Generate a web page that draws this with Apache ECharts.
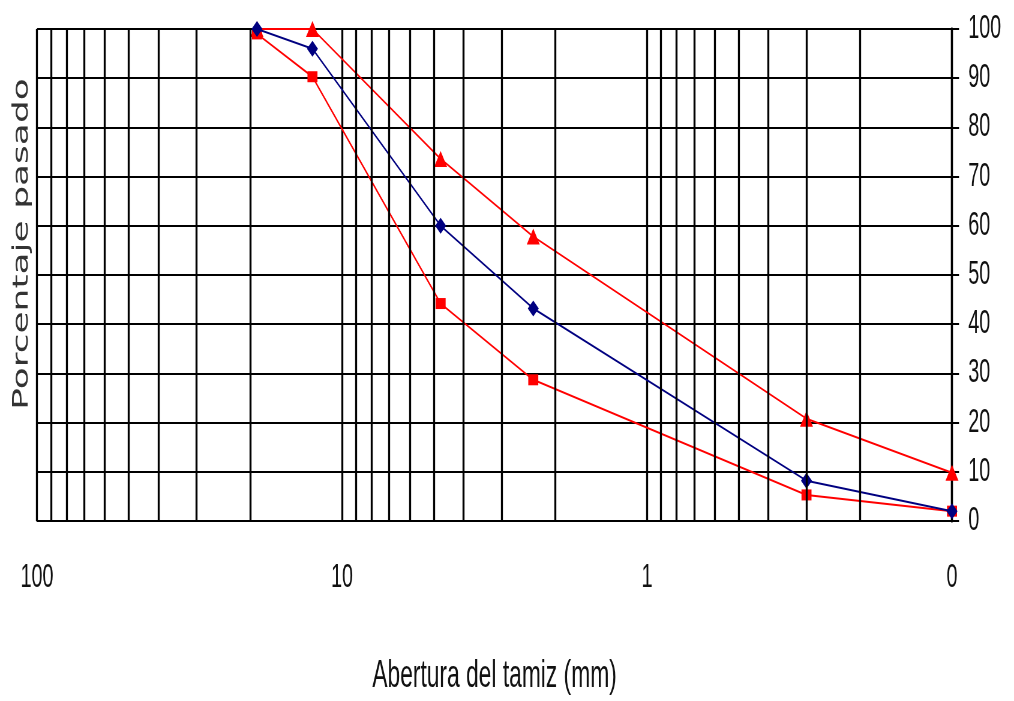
<!DOCTYPE html>
<html>
<head>
<meta charset="utf-8">
<script src="https://cdn.jsdelivr.net/npm/echarts@6/dist/echarts.min.js"></script>
<style>
  html, body { margin: 0; padding: 0; background: #fff; overflow: hidden; }
  #wrap { width: 1014px; height: 701px; overflow: hidden; }
  /* el grafico original esta comprimido en horizontal */
  #main { width: 1690px; height: 701px; transform: scaleX(0.6); transform-origin: 0 0; }
</style>
</head>
<body>
<div id="wrap"><div id="main"></div></div>
<script>
// abertura del tamiz (mm)
var aberturas = [19, 12.5, 4.75, 2.36, 0.3, 0.1];
// curva de la muestra (azul)
var muestra = [100, 96, 60, 43.2, 8.2, 2];
// limite superior / inferior (rojo)
var limSup = [100, 100, 73.6, 57.8, 20.8, 9.8];
var limInf = [99, 90.3, 44.2, 28.7, 5.3, 2];
// lineas menores de la grilla (escala log)
var lineasMenores = [90, 80, 70, 60, 50, 40, 30, 20, 9, 8, 7, 6, 5, 4, 3, 2, 0.9, 0.8, 0.7, 0.6, 0.5, 0.4, 0.3, 0.2];

var SX = 0.6; // compresion horizontal
var fuente = "'Liberation Sans', Arial, sans-serif";

function pares(ys) {
  return aberturas.map(function (x, i) { return [x, ys[i]]; });
}

var myChart = echarts.init(document.getElementById('main'));
var option = {
  animation: false,
  backgroundColor: '#fff',
  grid: { left: 37 / SX, right: 62 / SX, top: 29, bottom: 180, containLabel: false, outerBoundsMode: 'none' },
  graphic: [{
    type: 'text',
    x: 22 / SX,
    y: 244,
    rotation: Math.PI / 2,
    style: {
      text: 'Porcentaje pasado',
      font: '36px "DejaVu Sans"',
      fill: '#333',
      align: 'center',
      verticalAlign: 'middle'
    }
  }],
  xAxis: {
    type: 'log',
    logBase: 10,
    min: 0.1,
    max: 100,
    inverse: true,
    name: 'Abertura del tamiz (mm)',
    nameLocation: 'middle',
    nameGap: 137,
    nameTextStyle: { fontFamily: fuente, fontSize: 38, color: '#111' },
    axisLine: { show: true, lineStyle: { color: '#000', width: 2 } },
    axisTick: { show: false },
    axisLabel: {
      margin: 40,
      fontFamily: fuente,
      fontSize: 33,
      color: '#111',
      formatter: function (v) { return v < 1 ? '0' : String(Math.round(v)); }
    },
    splitLine: { show: true, lineStyle: { color: '#000', width: 2 / SX } }
  },
  yAxis: {
    type: 'value',
    position: 'right',
    min: 0,
    max: 100,
    interval: 10,
    axisLine: { show: true, lineStyle: { color: '#000', width: 2 / SX } },
    axisTick: { show: true, length: 7 / SX, lineStyle: { color: '#000', width: 2 } },
    axisLabel: { margin: 27, fontFamily: fuente, fontSize: 33, color: '#111' },
    splitLine: { show: true, lineStyle: { color: '#000', width: 2 } }
  },
  series: [
    {
      name: 'grilla',
      type: 'line',
      data: [],
      z: 1,
      markLine: {
        silent: true,
        symbol: ['none', 'none'],
        label: { show: false },
        lineStyle: { color: '#000', type: 'solid', width: 2 / SX },
        data: lineasMenores.map(function (v) { return { xAxis: v }; })
      }
    },
    {
      name: 'Limite inferior',
      type: 'line',
      z: 3,
      data: pares(limInf),
      symbol: 'rect',
      symbolSize: [10 / SX, 11],
      lineStyle: { color: '#ff0000', width: 2 },
      itemStyle: { color: '#ff0000' }
    },
    {
      name: 'Limite superior',
      type: 'line',
      z: 3,
      data: pares(limSup),
      symbol: 'triangle',
      symbolSize: [13 / SX, 16],
      lineStyle: { color: '#ff0000', width: 2 },
      itemStyle: { color: '#ff0000' }
    },
    {
      name: 'Muestra',
      type: 'line',
      z: 4,
      data: pares(muestra),
      symbol: 'diamond',
      symbolSize: [11 / SX, 16],
      lineStyle: { color: '#000080', width: 2 },
      itemStyle: { color: '#000080' }
    }
  ]
};

myChart.setOption(option);
</script>
</body>
</html>
